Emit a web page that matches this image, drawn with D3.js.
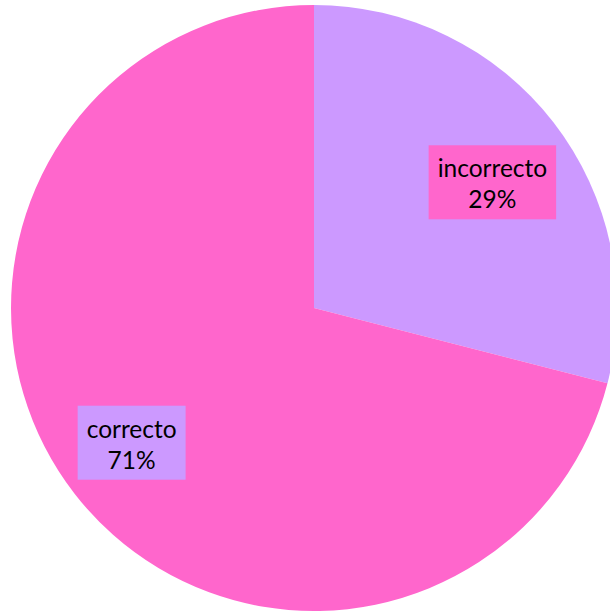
<!DOCTYPE html>
<html>
<head>
<meta charset="utf-8">
<script src="https://cdn.jsdelivr.net/npm/d3@7"></script>
<style>
  html, body { margin: 0; padding: 0; background: #fff; overflow: hidden; }
  svg { display: block; }
</style>
</head>
<body>
<svg id="chart" width="610" height="613"></svg>
<script>
// Answer breakdown
const categories = ["incorrecto", "correcto"];
const values = [29, 71];
const pctLabels = ["29%", "71%"];

const sliceColors = ["#CC99FF", "#FF66CC"];
const boxColors = ["#FF66CC", "#CC99FF"];

const svg = d3.select("#chart");
const cx = 314, cy = 308, r = 303;

const pie = d3.pie().sort(null).value(d => d.value);
const arcs = pie(categories.map((c, i) => ({ name: c, value: values[i], pct: pctLabels[i], i })));

const arc = d3.arc().innerRadius(0).outerRadius(r);
const g = svg.append("g").attr("transform", `translate(${cx},${cy})`);

g.selectAll("path.slice")
  .data(arcs)
  .join("path")
  .attr("class", "slice")
  .attr("d", arc)
  .attr("fill", d => sliceColors[d.data.i]);

// label anchor radius, with small nudges per slice
const labelArc = d3.arc().innerRadius(0).outerRadius(r * 1.44);
const nudge = [[6, 8], [-10, 1]];

const lab = g.selectAll("g.lab")
  .data(arcs)
  .join("g")
  .attr("class", "lab")
  .attr("transform", d => {
    const [x, y] = labelArc.centroid(d);
    const n = nudge[d.data.i];
    return `translate(${x + n[0]},${y + n[1]})`;
  });

lab.each(function(d) {
  const sel = d3.select(this);
  const rect = sel.append("rect").attr("fill", boxColors[d.data.i]);
  const t = sel.append("text")
    .attr("text-anchor", "middle")
    .attr("font-family", "Lato, 'Open Sans', sans-serif")
    .attr("font-size", 24.5)
    .attr("fill", "#000");
  t.append("tspan").attr("x", 0).attr("y", -5).text(d.data.name);
  t.append("tspan").attr("x", 0).attr("y", 26).text(d.data.pct);
  const bb = t.node().getBBox();
  const w = bb.width + 18;
  rect.attr("x", -w / 2).attr("y", -37).attr("width", w).attr("height", 74);
});
</script>
</body>
</html>
